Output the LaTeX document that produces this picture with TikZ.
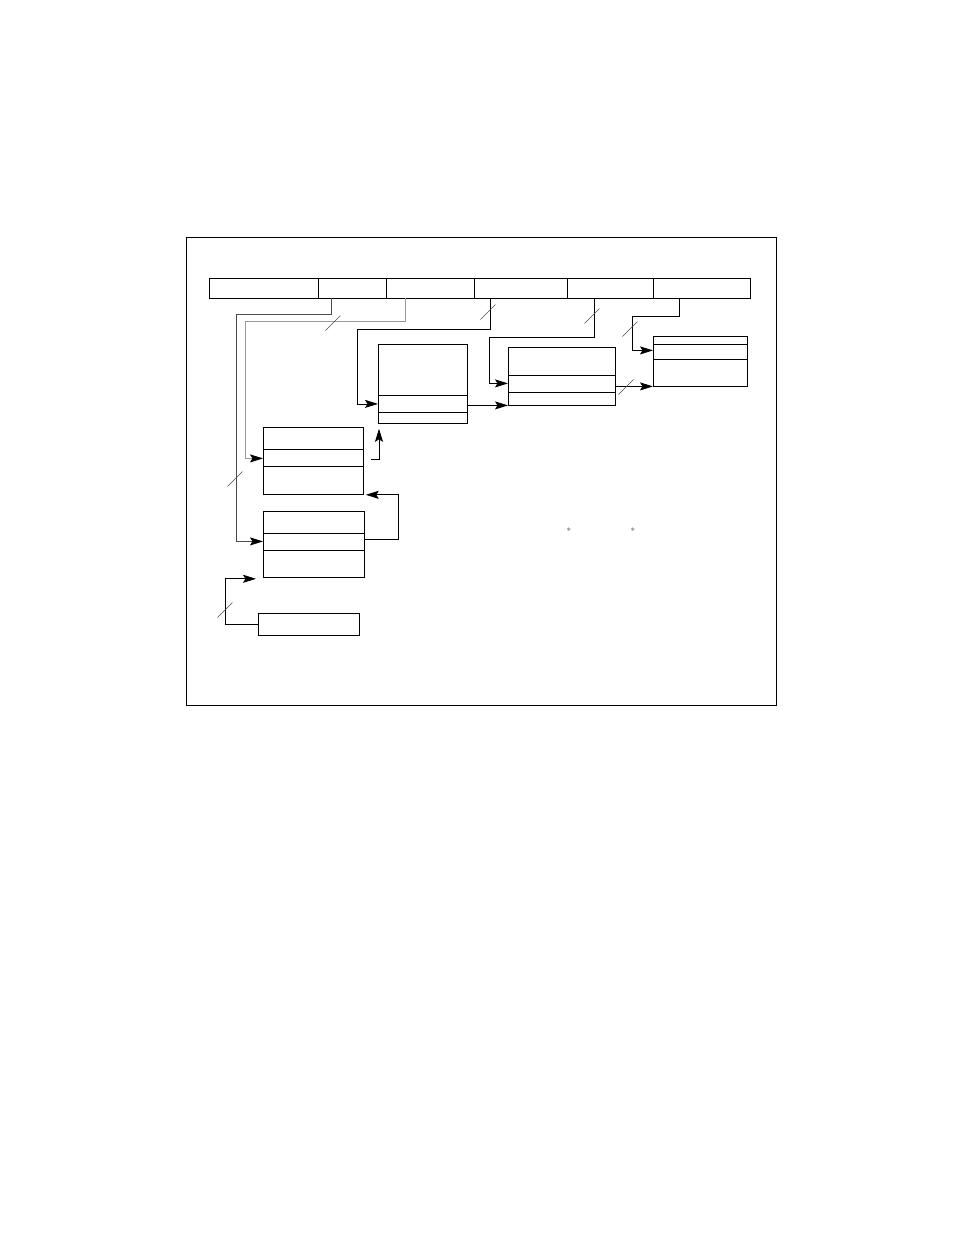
\documentclass[tikz,border=0pt]{standalone}
\usetikzlibrary{arrows.meta}
\begin{document}
\begin{tikzpicture}[x=1pt, y=-1pt, line width=0.8pt,
	field/.style = {draw, anchor=north west, inner sep=0pt, minimum height=20pt},
	box/.style = {draw, anchor=north west, inner sep=0pt},
	link/.style = {-{Stealth[length=13pt, width=8pt, inset=2.5pt, color=black]}},
	bus/.style = {line width=0.6pt, black!70},
	ast/.style = {inner sep=0pt, text=black!70, font=\fontsize{9}{9}\selectfont}]
	\useasboundingbox (0,0) rectangle (954,1235);
	\draw (186,237) rectangle (776,705);
	% register fields
	\node[field, minimum width=109pt] (f1) at (209,278) {};
	\node[field, minimum width=68pt] (f2) at (318,278) {};
	\node[field, minimum width=88pt] (f3) at (386,278) {};
	\node[field, minimum width=93pt] (f4) at (474,278) {};
	\node[field, minimum width=86pt] (f5) at (567,278) {};
	\node[field, minimum width=97pt] (f6) at (653,278) {};
	\coordinate (t2) at (331,298);
	\coordinate (t3) at (405,298);
	\coordinate (t4) at (490,298);
	\coordinate (t5) at (594,298);
	\coordinate (t6) at (679,298);
	% tables
	\node[box, minimum width=89pt, minimum height=79pt] (A) at (378,344) {};
	\node[box, minimum width=107pt, minimum height=58pt] (B) at (508,347) {};
	\node[box, minimum width=94pt, minimum height=50pt] (C) at (653,336) {};
	\node[box, minimum width=100pt, minimum height=67pt] (D) at (263,427) {};
	\node[box, minimum width=101pt, minimum height=66pt] (E) at (263,511) {};
	\node[box, minimum width=101pt, minimum height=22pt] (F) at (258,613) {};
	\foreach \b/\d in {A/51pt, A/68pt, B/28pt, B/45pt, C/8pt, C/23pt, D/22pt, D/39pt, E/22pt, E/39pt}
		\draw ([yshift=-\d]\b.north west) -- ([yshift=-\d]\b.north east);
	% connections
	\draw[link, black!70] (t2) |- (236,314) |- ([yshift=3pt]E.west);
	\draw[link, black!40] (t3) |- (245,321) |- ([yshift=2.5pt]D.west);
	\draw[link] (t4) |- (357,329) |- ([yshift=-20pt]A.west);
	\draw[link] (t5) |- (489,337) |- ([yshift=-7pt]B.west);
	\draw[link] (t6) |- (632,316) |- ([yshift=11pt]C.west);
	\draw[link] ([yshift=-21.5pt]A.east) -- ([yshift=-21.5pt]A.east -| B.west);
	\draw[link] ([yshift=-10pt]B.east) -- ([yshift=-10pt]B.east -| C.west);
	\draw[link] ([xshift=7pt, yshift=1.5pt]D.east) -| ([xshift=1pt, yshift=-5pt]A.south west);
	\draw[link] ([yshift=5pt]E.east) -| ([xshift=35pt]D.south east) -- ([xshift=2pt]D.south east);
	\draw[link] (F.west) -| ([xshift=-38pt, yshift=-1pt]E.south west) -- ([xshift=-7pt, yshift=-1pt]E.south west);
	% bus width marks
	\foreach \p in {(235,479), (333,323), (488,312), (592,316), (630,329), (626,387), (225,610)}
		\draw[bus] \p ++(-7.5,7.5) -- ++(15,-15);
	\node[ast] (s1) at (569,531) {*};
	\node[ast] (s2) at (633,531) {*};
\end{tikzpicture}
\end{document}
